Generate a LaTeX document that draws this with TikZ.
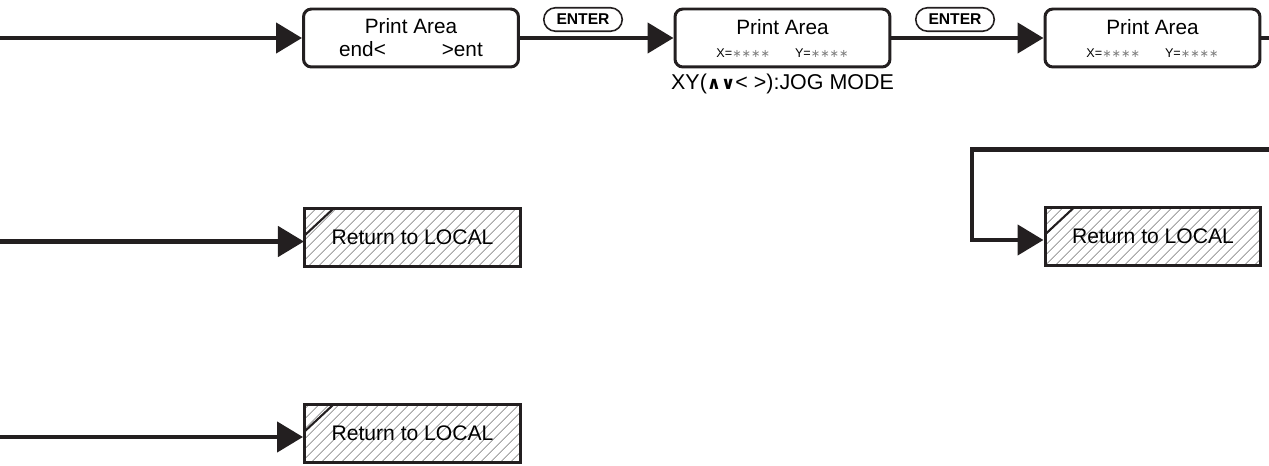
\documentclass[tikz,border=0pt]{standalone}
\usepackage{fontspec}
\setmainfont{Liberation Sans}
\newfontfamily\symfont{DejaVu Sans}
\usepackage{xcolor}
\usepackage{tikz}
\usetikzlibrary{arrows.meta,positioning,patterns.meta}
\definecolor{PanelInk}{RGB}{35,31,32}
\definecolor{HatchGray}{RGB}{170,170,170}
\newcommand{\starfield}{{\color{gray}\symfont\fontsize{6.4}{7}\selectfont ∗∗∗∗}}

\begin{document}
\begin{tikzpicture}[x=0.02cm,y=-0.02cm,
    disp/.style={draw=PanelInk, line width=1.7pt, rounded corners=4.5pt, minimum width=4.3cm, minimum height=1.16cm, inner sep=0pt, align=center, font=\fontsize{11.8}{13.1}\selectfont},
    keycap/.style={draw=PanelInk, line width=0.9pt, rounded corners=0.235cm, minimum width=1.57cm, minimum height=0.47cm, inner sep=0pt, font=\fontsize{8.9}{10}\selectfont\bfseries},
    localbox/.style={draw=PanelInk, line width=1.7pt, minimum width=4.32cm, minimum height=1.16cm, inner sep=0pt,
      pattern={Lines[angle=45,distance=4pt,line width=0.6pt]}, pattern color=HatchGray,
      font=\fontsize{12}{14}\selectfont,
      path picture={\draw[PanelInk, line width=1.2pt] ([yshift=-0.54cm]path picture bounding box.north west) -- ([xshift=0.58cm]path picture bounding box.north west);}},
    flow/.style={draw=PanelInk, line width=2.8pt, -{Triangle[length=14.8pt,width=17pt]}}]
  \useasboundingbox (0,0) rectangle (1269,466);

  % top row: print area setting
  \node[disp] (area1) at (411,38) {Print Area\\end<\hspace{1.12cm}>ent};
  \node[disp] (area2) at (782.5,38) {Print Area\\{\fontsize{7.2}{8}\selectfont X=\starfield\hspace{0.5cm}Y=\starfield}};
  \node[disp] (area3) at (1152.5,38) {Print Area\\{\fontsize{7.2}{8}\selectfont X=\starfield\hspace{0.5cm}Y=\starfield}};
  \node[keycap] (enter1) at (583,19.5) {ENTER};
  \node[keycap] (enter2) at (955,19.5) {ENTER};
  \node[below=0.1cm of area2, inner sep=0pt, font=\fontsize{12.2}{14}\selectfont] (jog)
    {XY({\symfont\bfseries\fontsize{10}{10}\selectfont ∧∨}< >):JOG MODE};

  \coordinate (in1) at (0,38);
  \coordinate (out3) at (1280,38);
  \draw[flow] (in1) -- (area1.west);
  \draw[flow] (area1.east) -- (area2.west);
  \draw[flow] (area2.east) -- (area3.west);
  \draw[flow, -] (area3.east) -- (out3);

  % return boxes
  \node[localbox] (local1) at (412.5,237.5) {Return to LOCAL};
  \node[localbox] (local2) at (412.5,433.5) {Return to LOCAL};
  \node[localbox] (local3) at (1153,236.5) {Return to LOCAL};

  \coordinate (in2) at (0,241.5);
  \coordinate (in3) at (0,437);
  \draw[flow] (in2) -- (in2 -| local1.west);
  \draw[flow] (in3) -- (in3 -| local2.west);

  \coordinate (loopin) at (1280,149.5);
  \coordinate (loopbend) at (972,240);
  \draw[flow] (loopin) -| (loopbend) -- (loopbend -| local3.west);
\end{tikzpicture}
\end{document}
